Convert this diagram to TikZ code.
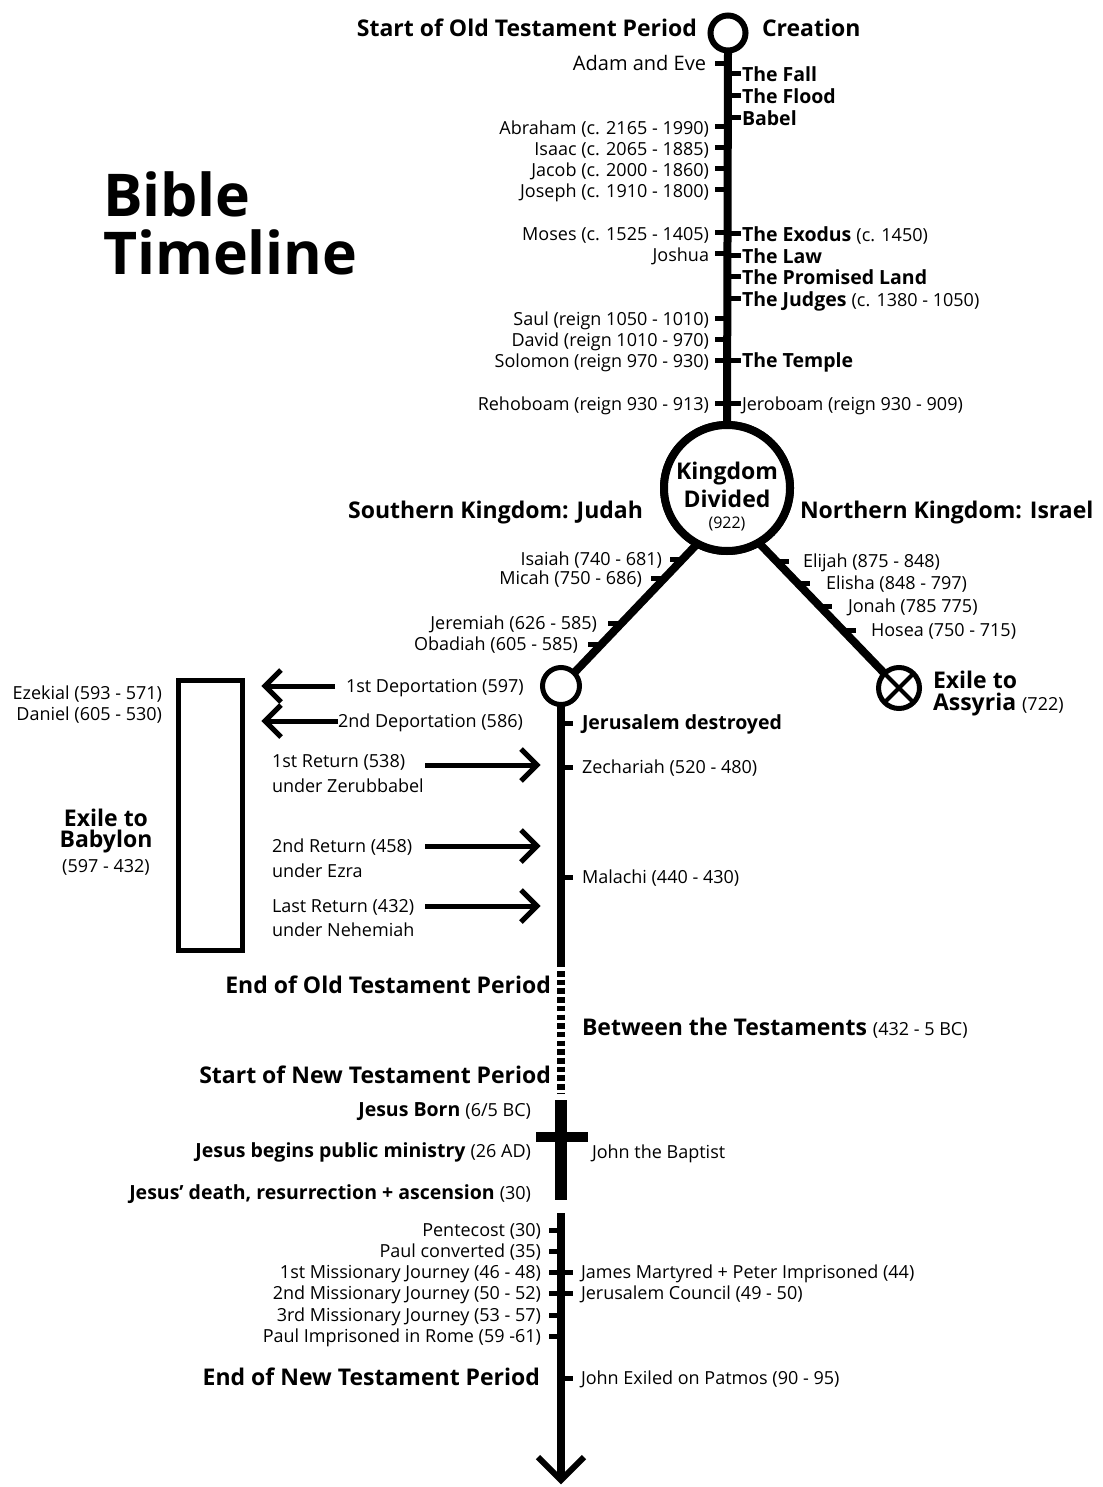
\documentclass[tikz,border=0pt]{standalone}
\usepackage{fontspec}
\setmainfont{Open Sans}
\begin{document}
\begin{tikzpicture}[x=1pt,y=-1pt,
  every node/.style={inner sep=0pt, outer sep=0pt},
  txt/.style={yshift=-4pt},
  rg/.style={txt, font=\fontsize{18}{21}\selectfont},
  bs/.style={txt, font=\fontsize{19.5}{23}\selectfont\bfseries},
  bl/.style={txt, font=\fontsize{23}{26}\selectfont\bfseries},
  L/.style={anchor=mid east},
  R/.style={anchor=mid west},
  ring/.style={circle, draw, fill=white},
  trunk/.style={line width=8pt},
  tk/.style={line width=5pt},
  arr/.style={line width=5pt},
]
\fill[white] (0,0) rectangle (1102,1487);
\useasboundingbox (0,0) rectangle (1102,1487);

% ---------- title
\node[anchor=base west, font=\fontsize{59}{60}\selectfont\bfseries] (t1) at (103,217) {Bible};
\node[anchor=base west, font=\fontsize{59}{60}\selectfont\bfseries] (t2) at (103,275) {Timeline};

% ---------- main circles
\node[ring, line width=6pt, minimum size=35pt] (top) at (728,33) {};
\node[ring, line width=8pt, minimum size=126pt] (K) at (727,488) {};
\node[ring, line width=5pt, minimum size=37pt] (S) at (561,686) {};

% ---------- upper trunk
\draw[trunk] (top.south) -- (K.north);
\foreach \y in {64,127,148,169,190,233,254,318,339,360,403}
  \draw[tk] (715,\y) -- (728,\y);
\foreach \y in {74,96,118,234,256,277,299,360,403}
  \draw[tk] (728,\y) -- (741,\y);

\node[bl,L] (sot) at (697,30) {Start of Old Testament Period};
\node[bl,R] (cre) at (762,30) {Creation};
\node[txt,L,font=\fontsize{20}{23}\selectfont] (adam) at (706,64) {Adam and Eve};
\node[bs,R] (fall) at (742,75) {The Fall};
\node[bs,R] (flood) at (742,97) {The Flood};
\node[bs,R] (babel) at (742,119) {Babel};
\node[rg,L] (abr) at (709,128) {Abraham (c. 2165 - 1990)};
\node[rg,L] (isa) at (709,149) {Isaac (c. 2065 - 1885)};
\node[rg,L] (jac) at (709,170) {Jacob (c. 2000 - 1860)};
\node[rg,L] (jos) at (709,191) {Joseph (c. 1910 - 1800)};
\node[rg,L] (mos) at (709,234) {Moses (c. 1525 - 1405)};
\node[bs,R] (exo) at (742,235) {The Exodus {\mdseries\fontsize{18}{21}\selectfont (c. 1450)}};
\node[rg,L] (jsh) at (709,255) {Joshua};
\node[bs,R] (law) at (742,257) {The Law};
\node[bs,R] (pro) at (742,278) {The Promised Land};
\node[bs,R] (jud) at (742,300) {The Judges {\mdseries\fontsize{18}{21}\selectfont (c. 1380 - 1050)}};
\node[rg,L] (saul) at (709,319) {Saul (reign 1050 - 1010)};
\node[rg,L] (dav) at (709,340) {David (reign 1010 - 970)};
\node[rg,L] (sol) at (709,361) {Solomon (reign 970 - 930)};
\node[bs,R] (tem) at (742,361) {The Temple};
\node[rg,L] (reh) at (709,404) {Rehoboam (reign 930 - 913)};
\node[rg,R] (jer) at (742,404) {Jeroboam (reign 930 - 909)};

% ---------- exile to assyria circle
\node[ring, line width=5pt, minimum size=41pt] (X) at (899,688) {};
\draw[line width=4pt] (X.45) -- (X.225) (X.135) -- (X.-45);

% branches
\draw[trunk] (S.45) -- (K.-118);
\draw[trunk] (X.135) -- (K.-60);
\node[ring, line width=8pt, minimum size=126pt] (K2) at (K) {};

% kingdom divided texts
\node[bl] (kd1) at (727,470) {Kingdom};
\node[bl] (kd2) at (727,495) {Divided};
\node[txt,font=\fontsize{16}{18}\selectfont] (kd3) at (727,520) {(922)};
\node[bl,L] (south) at (643,512) {Southern Kingdom: Judah};
\node[bl,R] (north) at (800,512) {Northern Kingdom: Israel};

% branch ticks (south, left side)
\draw[tk] (670,559) -- (684,559);
\draw[tk] (651,578) -- (665,578);
\draw[tk] (608,623) -- (622,623);
\draw[tk] (588,644) -- (602,644);
% branch ticks (north, right side)
\draw[tk] (775,561) -- (789,561);
\draw[tk] (796,583) -- (810,583);
\draw[tk] (818,606) -- (832,606);
\draw[tk] (842,630) -- (856,630);

\node[rg,L] (isai) at (662,559) {Isaiah (740 - 681)};
\node[rg,L] (mic) at (642,578) {Micah (750 - 686)};
\node[rg,L] (jere) at (597,623) {Jeremiah (626 - 585)};
\node[rg,L] (oba) at (578,644) {Obadiah (605 - 585)};
\node[rg,R] (eli) at (803,561) {Elijah (875 - 848)};
\node[rg,R] (elis) at (826,583) {Elisha (848 - 797)};
\node[rg,R] (jon) at (848,606) {Jonah (785 775)};
\node[rg,R] (hos) at (871,630) {Hosea (750 - 715)};

\node[anchor=west, align=left, font=\fontsize{23}{22}\selectfont\bfseries] (exa) at (933,693.5)
  {Exile to\\Assyria {\mdseries\fontsize{18}{21}\selectfont (722)}};

% ---------- exile to babylon
\node[draw, line width=5pt, minimum width=64pt, minimum height=270pt] (bab) at (210.5,815.5) {};
\node[rg,L] (eze) at (162,693) {Ezekial (593 - 571)};
\node[rg,L] (dan) at (162,714) {Daniel (605 - 530)};
\node[align=center, font=\fontsize{23}{21}\selectfont\bfseries] (exb) at (106,831)
  {Exile to\\Babylon};
\node[rg] (exb3) at (106,863) {(597 - 432)};

% deportations
\coordinate (d1a) at (335,686); \coordinate (d1b) at (265,686);
\coordinate (d2a) at (338,721); \coordinate (d2b) at (265,721);
\draw[arr] (d1a) -- (d1b);
\draw[arr] (d1b) ++(16,-16) -- (d1b) -- ++(16,16);
\draw[arr] (d2a) -- (d2b);
\draw[arr] (d2b) ++(16,-16) -- (d2b) -- ++(16,16);
\node[rg,R] (dep1) at (346,686) {1st Deportation (597)};
\node[rg,R] (dep2) at (338,721) {2nd Deportation (586)};

% returns
\coordinate (r1a) at (425,765); \coordinate (r1b) at (537,765);
\coordinate (r2a) at (425,846); \coordinate (r2b) at (537,846);
\coordinate (r3a) at (425,906); \coordinate (r3b) at (537,906);
\foreach \a/\b in {r1a/r1b,r2a/r2b,r3a/r3b}{
  \draw[arr] (\a) -- (\b);
  \draw[arr] (\b) ++(-16,-16) -- (\b) -- ++(-16,16);
}
\node[rg,R] (ret1) at (272,761) {1st Return (538)};
\node[rg,R] (ret1b) at (272,786) {under Zerubbabel};
\node[rg,R] (ret2) at (272,846) {2nd Return (458)};
\node[rg,R] (ret2b) at (272,871) {under Ezra};
\node[rg,R] (ret3) at (272,906) {Last Return (432)};
\node[rg,R] (ret3b) at (272,930) {under Nehemiah};

% ---------- lower trunk (Judah)
\coordinate (ote) at (561,967);
\draw[trunk] (S.south) -- (ote);
\foreach \y in {723,767,877}
  \draw[tk] (561,\y) -- (573,\y);
\node[bs,R] (jd) at (582,723) {Jerusalem destroyed};
\node[rg,R] (zec) at (582,767) {Zechariah (520 - 480)};
\node[rg,R] (mal) at (582,877) {Malachi (440 - 430)};

% between testaments
\coordinate (ds) at (561,971); \coordinate (de) at (561,1093);
\draw[line width=8pt, dash pattern=on 5.5pt off 3.2pt] (ds) -- (de);
\node[bl,L] (eot) at (551,987) {End of Old Testament Period};
\node[bl,R] (btw) at (582,1029) {Between the Testaments {\mdseries\fontsize{18}{21}\selectfont (432 - 5 BC)}};
\node[bl,L] (snt) at (551,1077) {Start of New Testament Period};

% cross
\coordinate (c1) at (561,1100); \coordinate (c2) at (561,1200);
\coordinate (cb1) at (536,1137); \coordinate (cb2) at (588,1137);
\draw[line width=12pt] (c1) -- (c2);
\draw[line width=10pt] (cb1) -- (cb2);
\node[bs,L] (jb) at (531,1110) {Jesus Born {\mdseries\fontsize{18}{21}\selectfont (6/5 BC)}};
\node[bs,L] (jm) at (531,1151) {Jesus begins public ministry {\mdseries\fontsize{18}{21}\selectfont (26 AD)}};
\node[bs,L] (jd2) at (531,1193) {Jesus’ death, resurrection + ascension {\mdseries\fontsize{18}{21}\selectfont (30)}};
\node[rg,R] (jtb) at (592,1152) {John the Baptist};

% final trunk
\coordinate (b1) at (561,1213); \coordinate (tip) at (561,1480);
\draw[trunk] (b1) -- (tip);
\draw[line width=6pt] (tip) ++(-23,-23) -- (tip) -- ++(23,-23);
\foreach \y in {1230,1251,1272,1293,1315,1336}
  \draw[tk] (549,\y) -- (561,\y);
\foreach \y in {1272,1293,1378}
  \draw[tk] (561,\y) -- (573,\y);
\node[rg,L] (pen) at (541,1230) {Pentecost (30)};
\node[rg,L] (pc) at (541,1251) {Paul converted (35)};
\node[rg,L] (mj1) at (541,1272) {1st Missionary Journey (46 - 48)};
\node[rg,L] (mj2) at (541,1293) {2nd Missionary Journey (50 - 52)};
\node[rg,L] (mj3) at (541,1315) {3rd Missionary Journey (53 - 57)};
\node[rg,L] (pir) at (541,1336) {Paul Imprisoned in Rome (59 -61)};
\node[rg,R] (jmp) at (581,1272) {James Martyred + Peter Imprisoned (44)};
\node[rg,R] (jc) at (581,1293) {Jerusalem Council (49 - 50)};
\node[rg,R] (jep) at (581,1378) {John Exiled on Patmos (90 - 95)};
\node[bl,L] (ent) at (540,1379) {End of New Testament Period};
\end{tikzpicture}
\end{document}
